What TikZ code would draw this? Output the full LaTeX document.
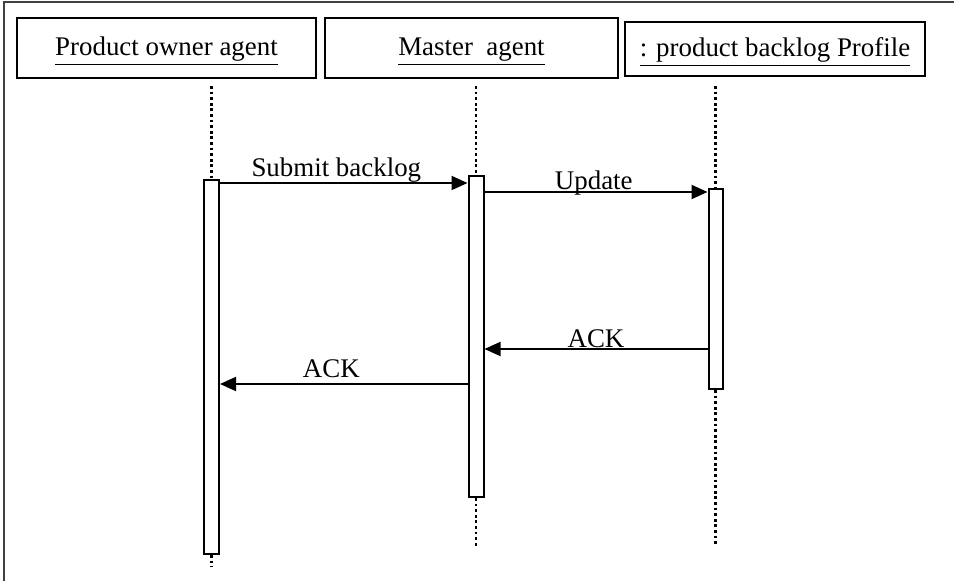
\documentclass[tikz,border=0pt]{standalone}
\usepackage{fontspec}
\setmainfont{Liberation Serif}
\usetikzlibrary{arrows.meta}
\usetikzlibrary{calc,positioning}

\tikzset{
  actor/.style={draw, line width=1bp, inner sep=0pt, text height=9.5bp, text depth=1.5bp,
    font=\fontsize{13.5}{16}\selectfont},
  bar/.style={draw, fill=white, line width=1bp, inner sep=0pt, minimum width=7.5bp},
  lifeline/.style={line width=1.4bp, dash pattern=on 1.4bp off 1.4bp},
  msg/.style={-{Triangle[length=8bp,width=7bp]}, line width=1bp},
  lbl/.style={font=\fontsize{13.5}{16}\selectfont, inner sep=0pt}
}

\begin{document}
\begin{tikzpicture}[x=0.5bp,y=-0.5bp]
\useasboundingbox (0,0) rectangle (954,581);
\draw[line width=0.8bp, black!75] (4,2) rectangle (1100,700);

% objetos
	\node[actor, minimum width=149.5bp, minimum height=30bp] (owner) at (166.5,48) {\underline{Product owner agent}};
	\node[actor, minimum width=146.5bp, minimum height=30bp] (master) at (471.5,48) {\underline{Master\ \ agent}};
	\node[actor, minimum width=150bp, minimum height=27bp] (backlog) at (775,49) {\underline{: product backlog Profile}};

% barras de activacion
	\node[bar, minimum height=187bp] (po) at (211.5,367) {};
	\node[bar, minimum height=160.5bp] (ma) at (476,336.5) {};
	\node[bar, minimum height=100bp, minimum width=7bp] (pb) at (715.5,289) {};

% lineas de vida
	\draw[lifeline] ([yshift=-3.5bp]owner.south -| po) -- (po.north);
	\draw[lifeline] (po.south) -- ++(0,12);
	\draw[lifeline] ([yshift=-3.5bp]master.south -| ma) -- (ma.north);
	\draw[lifeline] (ma.south) -- ++(0,49);
	\draw[lifeline] ([yshift=-4.5bp]backlog.south -| pb) -- (pb.north);
	\draw[lifeline] (pb.south) -- ++(0,154);

% mensajes
	\coordinate (m1) at (0,183);
	\coordinate (m2) at (0,192);
	\coordinate (m3) at (0,349);
	\coordinate (m4) at (0,384);
	\draw[msg] (po.east |- m1) -- node[lbl, pos=.47, above=0pt] {Submit backlog} (ma.west |- m1);
	\draw[msg] (ma.east |- m2) -- node[lbl, pos=.49, anchor=base, yshift=1.2bp] {Update} (pb.west |- m2);
	\draw[msg] (pb.west |- m3) -- node[lbl, pos=.5, anchor=base, yshift=0.6bp] {ACK} (ma.east |- m3);
	\draw[msg] (ma.west |- m4) -- node[lbl, pos=.55, anchor=base, yshift=3.2bp] {ACK} (po.east |- m4);
\end{tikzpicture}
\end{document}
